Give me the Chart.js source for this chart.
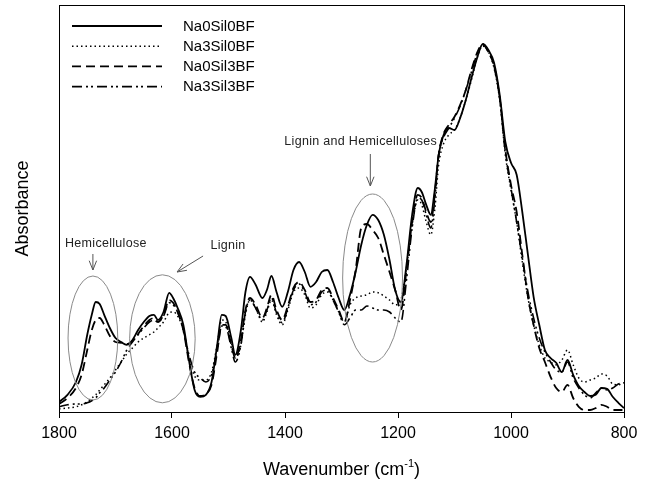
<!DOCTYPE html>
<html>
<head>
<meta charset="utf-8">
<script src="https://cdn.jsdelivr.net/npm/chart.js@4.4.1/dist/chart.umd.min.js"></script>
<style>
    html, body { margin: 0; padding: 0; background: #fff; }
    #wrap { width: 650px; height: 485px; }
</style>
</head>
<body>
<div id="wrap"><canvas id="ftirChart" width="650" height="485"></canvas></div>
<script>
// wavenumber grid (cm-1), shared by all four spectra
const wavenumbers = [
    1800, 1785, 1770, 1760, 1750, 1742, 1735, 1728, 1720, 1710,
    1700, 1690, 1680, 1670, 1660, 1650, 1640, 1632, 1625, 1615,
    1605, 1598, 1590, 1580, 1570, 1560, 1550, 1540, 1530, 1520,
    1512, 1505, 1495, 1488, 1478, 1470, 1462, 1452, 1440, 1432,
    1424, 1415, 1405, 1395, 1385, 1375, 1365, 1355, 1345, 1335,
    1325, 1315, 1305, 1295, 1285, 1275, 1265, 1255, 1245, 1235,
    1225, 1215, 1205, 1195, 1185, 1175, 1165, 1158, 1150, 1142,
    1135, 1128, 1120, 1110, 1100, 1090, 1080, 1070, 1060, 1050,
    1040, 1030, 1020, 1010, 1000, 990, 980, 970, 960, 950,
    940, 930, 920, 910, 900, 890, 880, 870, 860, 850,
    840, 830, 820, 810, 800
];

const seriesLabels = ["Na0Sil0BF", "Na3Sil0BF", "Na0Sil3BF", "Na3Sil3BF"];

const na0Sil0BF = [
    0.025, 0.043, 0.075, 0.118, 0.193, 0.243, 0.275, 0.27, 0.243, 0.21,
    0.185, 0.175, 0.168, 0.18, 0.205, 0.225, 0.24, 0.243, 0.23, 0.25,
    0.298, 0.285, 0.26, 0.218, 0.13, 0.055, 0.038, 0.043, 0.075, 0.168,
    0.243, 0.24, 0.185, 0.143, 0.205, 0.3, 0.338, 0.318, 0.285, 0.305,
    0.34, 0.3, 0.263, 0.3, 0.355, 0.375, 0.35, 0.313, 0.325, 0.35,
    0.355, 0.325, 0.285, 0.255, 0.293, 0.35, 0.418, 0.468, 0.493, 0.48,
    0.443, 0.38, 0.305, 0.275, 0.368, 0.493, 0.56, 0.55, 0.518, 0.493,
    0.555, 0.643, 0.69, 0.71, 0.705, 0.735, 0.78, 0.835, 0.885, 0.92,
    0.905, 0.873, 0.793, 0.675, 0.623, 0.593, 0.5, 0.393, 0.288, 0.218,
    0.155, 0.135, 0.123, 0.1, 0.13, 0.093, 0.065, 0.05, 0.04, 0.043,
    0.06, 0.058, 0.038, 0.023, 0.01
];

const na3Sil0BF = [
    0.008, 0.01, 0.013, 0.018, 0.025, 0.035, 0.043, 0.055, 0.068, 0.085,
    0.105, 0.125, 0.145, 0.16, 0.175, 0.185, 0.193, 0.2, 0.21, 0.225,
    0.248, 0.25, 0.24, 0.205, 0.135, 0.09, 0.08, 0.08, 0.1, 0.168,
    0.23, 0.225, 0.175, 0.135, 0.168, 0.243, 0.28, 0.26, 0.225, 0.25,
    0.28, 0.243, 0.218, 0.255, 0.3, 0.31, 0.293, 0.26, 0.268, 0.293,
    0.3, 0.28, 0.25, 0.225, 0.268, 0.285, 0.29, 0.293, 0.3, 0.298,
    0.29, 0.28, 0.268, 0.28, 0.36, 0.468, 0.53, 0.518, 0.475, 0.443,
    0.505, 0.618, 0.668, 0.693, 0.705, 0.735, 0.78, 0.83, 0.885, 0.915,
    0.9, 0.86, 0.78, 0.643, 0.555, 0.475, 0.375, 0.285, 0.218, 0.168,
    0.135, 0.125, 0.118, 0.13, 0.155, 0.118, 0.085, 0.075, 0.08, 0.085,
    0.095, 0.09, 0.07, 0.068, 0.073
];

const na0Sil3BF = [
    0.02, 0.035, 0.06, 0.093, 0.155, 0.205, 0.23, 0.235, 0.218, 0.19,
    0.175, 0.173, 0.17, 0.178, 0.195, 0.215, 0.23, 0.235, 0.225, 0.243,
    0.28, 0.273, 0.25, 0.205, 0.125, 0.06, 0.04, 0.045, 0.068, 0.15,
    0.218, 0.218, 0.168, 0.135, 0.18, 0.255, 0.285, 0.268, 0.235, 0.26,
    0.293, 0.255, 0.23, 0.265, 0.31, 0.325, 0.305, 0.275, 0.28, 0.305,
    0.31, 0.285, 0.255, 0.225, 0.28, 0.355, 0.46, 0.47, 0.455, 0.435,
    0.393, 0.35, 0.305, 0.255, 0.355, 0.475, 0.543, 0.535, 0.5, 0.475,
    0.543, 0.643, 0.693, 0.718, 0.738, 0.768, 0.805, 0.855, 0.898, 0.92,
    0.9, 0.865, 0.785, 0.655, 0.568, 0.5, 0.393, 0.288, 0.218, 0.16,
    0.125, 0.088, 0.06, 0.05, 0.068, 0.035, 0.013, 0.005, 0.005, 0.01,
    0.018, 0.013, 0.005, 0.005, 0.005
];

const na3Sil3BF = [
    0.013, 0.018, 0.02, 0.02, 0.023, 0.028, 0.035, 0.048, 0.06, 0.08,
    0.1, 0.125, 0.155, 0.175, 0.193, 0.21, 0.225, 0.23, 0.225, 0.24,
    0.273, 0.268, 0.25, 0.205, 0.143, 0.1, 0.085, 0.075, 0.093, 0.155,
    0.215, 0.213, 0.16, 0.125, 0.168, 0.25, 0.28, 0.26, 0.23, 0.255,
    0.285, 0.248, 0.223, 0.26, 0.305, 0.32, 0.3, 0.268, 0.275, 0.3,
    0.305, 0.28, 0.25, 0.218, 0.235, 0.255, 0.255, 0.265, 0.26, 0.255,
    0.255, 0.25, 0.235, 0.225, 0.33, 0.46, 0.535, 0.53, 0.493, 0.46,
    0.53, 0.643, 0.685, 0.71, 0.735, 0.765, 0.805, 0.85, 0.895, 0.918,
    0.9, 0.865, 0.785, 0.65, 0.56, 0.475, 0.385, 0.3, 0.235, 0.185,
    0.15, 0.125, 0.105, 0.1, 0.125, 0.085, 0.06, 0.043, 0.035, 0.048,
    0.06, 0.055, 0.06, 0.07, 0.073
];

// annotation boxes: [centre wavenumber, centre absorbance, half width (cm-1), half height]
const ellipses = [
    [1740, 0.185, 44, 0.155],
    [1617, 0.183, 58, 0.16],
    [1245, 0.335, 53, 0.21]
];
// labels: [text, wavenumber, absorbance, align]
const notes = [
    ["Hemicellulose", 1717, 0.42, "center"],
    ["Lignin", 1532, 0.415, "left"],
    ["Lignin and Hemicelluloses", 1266, 0.675, "center"]
];
// arrows: [from wavenumber, from abs, to wavenumber, to abs]
const arrows = [
    [1740, 0.395, 1740, 0.355],
    [1545, 0.39, 1591, 0.35],
    [1249, 0.645, 1249, 0.565]
];

const FONT = "'Liberation Sans', Arial, sans-serif";

const seriesValues = [na0Sil0BF, na3Sil0BF, na0Sil3BF, na3Sil3BF];
const seriesDash = [[], [1.5, 3], [9, 5], [10, 4, 2, 3, 2, 4]];
const seriesWidth = [1.8, 1.5, 1.8, 1.6];

const datasets = seriesLabels.map((label, i) => ({
    label: label,
    data: wavenumbers.map((w, j) => ({ x: w, y: seriesValues[i][j] })),
    borderColor: "#000",
    borderWidth: seriesWidth[i],
    borderDash: seriesDash[i],
    pointRadius: 0,
    fill: false,
    cubicInterpolationMode: "monotone"
}));

const decorPlugin = {
    id: "decor",
    beforeDraw(chart) {
        const ctx = chart.ctx;
        ctx.save();
        ctx.fillStyle = "#fff";
        ctx.fillRect(0, 0, chart.width, chart.height);
        ctx.restore();
    },
    afterDraw(chart) {
        const ctx = chart.ctx;
        const xs = chart.scales.x, ys = chart.scales.y;
        const area = chart.chartArea;
        ctx.save();

        // frame
        ctx.strokeStyle = "#000";
        ctx.lineWidth = 1;
        ctx.strokeRect(area.left + 0.5, area.top + 0.5, area.right - area.left, area.bottom - area.top);

        // ellipses
        ctx.strokeStyle = "#8a8a8a";
        ctx.lineWidth = 1;
        ellipses.forEach(([w, a, hw, hh]) => {
            const cx = xs.getPixelForValue(w), cy = ys.getPixelForValue(a);
            const rx = Math.abs(xs.getPixelForValue(w + hw) - cx);
            const ry = Math.abs(ys.getPixelForValue(a + hh) - cy);
            ctx.beginPath();
            ctx.ellipse(cx, cy, rx, ry, 0, 0, Math.PI * 2);
            ctx.stroke();
        });

        // arrows
        ctx.strokeStyle = "#555";
        arrows.forEach(([w1, a1, w2, a2]) => {
            const x1 = xs.getPixelForValue(w1), y1 = ys.getPixelForValue(a1);
            const x2 = xs.getPixelForValue(w2), y2 = ys.getPixelForValue(a2);
            const ang = Math.atan2(y2 - y1, x2 - x1);
            ctx.beginPath();
            ctx.moveTo(x1, y1);
            ctx.lineTo(x2, y2);
            ctx.moveTo(x2 - 10 * Math.cos(ang - 0.38), y2 - 10 * Math.sin(ang - 0.38));
            ctx.lineTo(x2, y2);
            ctx.lineTo(x2 - 10 * Math.cos(ang + 0.38), y2 - 10 * Math.sin(ang + 0.38));
            ctx.stroke();
        });

        // notes
        ctx.fillStyle = "#222";
        ctx.font = "12.5px " + FONT;
        ctx.letterSpacing = "0.3px";
        ctx.textBaseline = "middle";
        notes.forEach(([t, w, a, align]) => {
            ctx.textAlign = align;
            ctx.fillText(t, xs.getPixelForValue(w), ys.getPixelForValue(a));
        });
        ctx.letterSpacing = "0px";

        // legend
        ctx.font = "15px " + FONT;
        ctx.textAlign = "left";
        ctx.fillStyle = "#000";
        chart.data.datasets.forEach((ds, i) => {
            const y = area.top + 21 + i * 20.2;
            ctx.strokeStyle = "#000";
            ctx.lineWidth = ds.borderWidth;
            ctx.setLineDash(ds.borderDash);
            ctx.beginPath();
            ctx.moveTo(area.left + 13, y);
            ctx.lineTo(area.left + 103, y);
            ctx.stroke();
            ctx.setLineDash([]);
            ctx.fillText(ds.label, area.left + 124, y + 0.5);
        });

        // x axis title with superscript
        ctx.font = "18px " + FONT;
        ctx.textBaseline = "alphabetic";
        const main = "Wavenumber (cm", sup = "-1", end = ")";
        const wMain = ctx.measureText(main).width;
        const wEnd = ctx.measureText(end).width;
        ctx.font = "11px " + FONT;
        const wSup = ctx.measureText(sup).width;
        const cx = (area.left + area.right) / 2;
        let x = cx - (wMain + wSup + wEnd) / 2;
        const base = 475;
        ctx.font = "18px " + FONT;
        ctx.fillText(main, x, base);
        ctx.font = "11px " + FONT;
        ctx.fillText(sup, x + wMain, base - 8);
        ctx.font = "18px " + FONT;
        ctx.fillText(end, x + wMain + wSup, base);

        ctx.restore();
    }
};

new Chart(document.getElementById("ftirChart"), {
    type: "line",
    data: { datasets: datasets },
    options: {
        responsive: false,
        animation: false,
        layout: { padding: { top: 5, right: 26, left: 0, bottom: 0 } },
        plugins: {
            legend: { display: false },
            tooltip: { enabled: false }
        },
        scales: {
            x: {
                type: "linear",
                reverse: true,
                min: 800,
                max: 1800,
                afterFit: s => { s.height = 73; },
                ticks: {
                    stepSize: 200,
                    color: "#000",
                    padding: 6,
                    font: { family: FONT, size: 16 },
                    callback: v => String(v)
                },
                grid: { drawOnChartArea: false, drawTicks: true, tickLength: 6, color: "#000" },
                border: { color: "#000" }
            },
            y: {
                min: 0,
                max: 1.0175,
                afterFit: s => { s.width = 59; },
                ticks: { display: false },
                grid: { display: false },
                border: { color: "#000" },
                title: {
                    display: true,
                    text: "Absorbance",
                    color: "#000",
                    padding: { top: 12, bottom: 0 },
                    font: { family: FONT, size: 18 }
                }
            }
        }
    },
    plugins: [decorPlugin]
});
</script>
</body>
</html>
